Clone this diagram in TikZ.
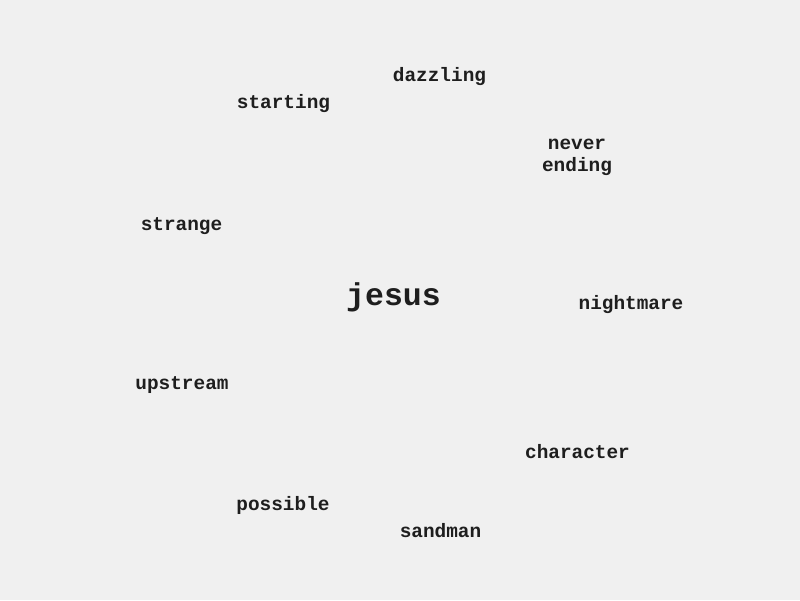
\documentclass[tikz,border=0pt]{standalone}
\usepackage{fontspec}
\setmonofont{Liberation Mono}
\definecolor{bgc}{HTML}{F0F0F0}
\definecolor{txt}{HTML}{1E1E1E}
\tikzset{
  word/.style={anchor=base, inner sep=0pt, text=txt, font=\ttfamily\bfseries\fontsize{19.4}{22}\selectfont},
  bigword/.style={word, font=\ttfamily\bfseries\fontsize{31.5}{36}\selectfont}
}
\begin{document}
\begin{tikzpicture}[x=1pt,y=-1pt]
\fill[bgc] (0,0) rectangle (800,600);
\useasboundingbox (0,0) rectangle (800,600);
\node[word] (dazzling) at (439.5,81) {dazzling};
\node[word] (starting) at (283.5,108) {starting};
\node[word, align=center] (never) at (577,171) {never\\ending};
\node[word] (strange) at (181.5,230) {strange};
\node[bigword] (jesus) at (393.5,305) {jesus};
\node[word] (nightmare) at (631,309) {nightmare};
\node[word] (upstream) at (182,389) {upstream};
\node[word] (character) at (577.5,458) {character};
\node[word] (possible) at (283,510) {possible};
\node[word] (sandman) at (440.5,537) {sandman};
\end{tikzpicture}
\end{document}
